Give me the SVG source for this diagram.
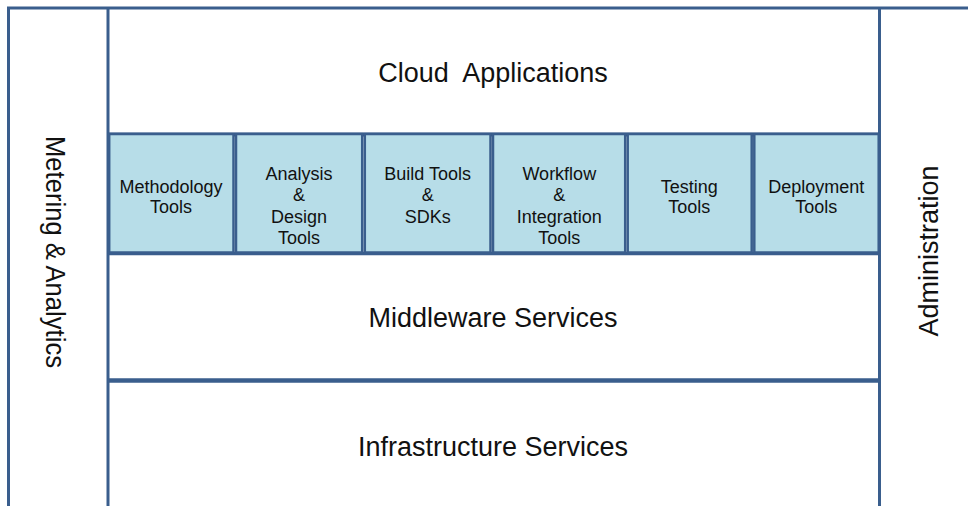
<svg xmlns="http://www.w3.org/2000/svg" width="968" height="506" viewBox="0 0 968 506">
<style>
.ln{stroke:#3a5e8d;fill:none}
.cell{fill:#b7dde8;stroke:#3a5e8d;stroke-width:2.5}
.big{font-family:"Liberation Sans",Arial,sans-serif;font-size:27px;fill:#111;text-anchor:middle}
.sm{font-family:"Liberation Sans",Arial,sans-serif;font-size:18px;fill:#111;text-anchor:middle}
</style>
<rect width="968" height="506" fill="#fff"/>
<g id="frame">
<line class="ln" x1="7" y1="8" x2="968" y2="8" stroke-width="3"/>
<line class="ln" x1="8.5" y1="7" x2="8.5" y2="506" stroke-width="3"/>
<line class="ln" x1="108" y1="7" x2="108" y2="506" stroke-width="3"/>
<line class="ln" x1="879.5" y1="7" x2="879.5" y2="506" stroke-width="3"/>
<line class="ln" x1="107" y1="134.5" x2="881" y2="134.5" stroke-width="4"/>
<line class="ln" x1="107" y1="253.5" x2="881" y2="253.5" stroke-width="3.5"/>
<line class="ln" x1="107" y1="380.5" x2="881" y2="380.5" stroke-width="4.5"/>
</g>
<g id="cloud"><text class="big" x="493" y="82" xml:space="preserve">Cloud  Applications</text></g>
<g id="middleware"><text class="big" x="493" y="327">Middleware Services</text></g>
<g id="infrastructure"><text class="big" x="493" y="456">Infrastructure Services</text></g>
<g id="metering"><text class="big" transform="translate(46,252) rotate(90)" x="0" y="0" textLength="232" lengthAdjust="spacingAndGlyphs">Metering &amp; Analytics</text></g>
<g id="administration"><text class="big" transform="translate(938,251) rotate(-90)" x="0" y="0">Administration</text></g>
<g id="methodology">
<rect class="cell" x="109.2" y="134" width="124.3" height="118.5"/>
<text class="sm" x="171" y="193">Methodology</text><text class="sm" x="171" y="213">Tools</text>
</g>
<g id="analysis">
<rect class="cell" x="236" y="134" width="126.2" height="118.5"/>
<text class="sm" x="299" y="180">Analysis</text><text class="sm" x="299" y="201.3">&amp;</text><text class="sm" x="299" y="222.7">Design</text><text class="sm" x="299" y="244">Tools</text>
</g>
<g id="build">
<rect class="cell" x="364.8" y="134" width="125.7" height="118.5"/>
<text class="sm" x="427.7" y="180">Build Tools</text><text class="sm" x="427.7" y="201.3">&amp;</text><text class="sm" x="427.7" y="222.7">SDKs</text>
</g>
<g id="workflow">
<rect class="cell" x="493" y="134" width="132.2" height="118.5"/>
<text class="sm" x="559.3" y="180">Workflow</text><text class="sm" x="559.3" y="201.3">&amp;</text><text class="sm" x="559.3" y="222.7">Integration</text><text class="sm" x="559.3" y="244">Tools</text>
</g>
<g id="testing">
<rect class="cell" x="627.7" y="134" width="124" height="118.5"/>
<text class="sm" x="689.2" y="193">Testing</text><text class="sm" x="689.2" y="213">Tools</text>
</g>
<g id="deployment">
<rect class="cell" x="754.3" y="134" width="124.4" height="118.5"/>
<text class="sm" x="816.3" y="193">Deployment</text><text class="sm" x="816.3" y="213">Tools</text>
</g>
</svg>
